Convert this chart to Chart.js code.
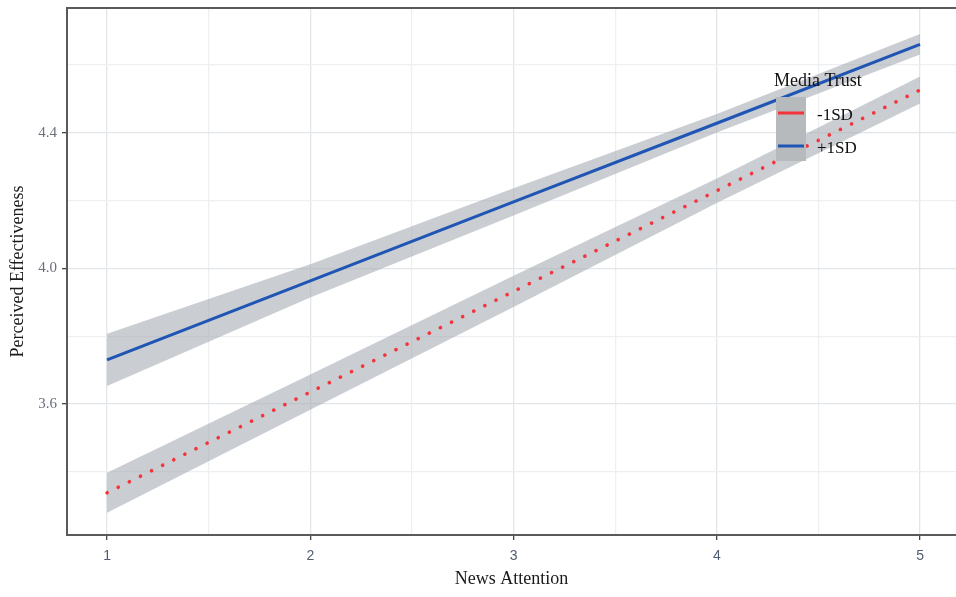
<!DOCTYPE html>
<html>
<head>
<meta charset="utf-8">
<script src="https://cdn.jsdelivr.net/npm/chart.js@4"></script>
<style>
  html, body { margin: 0; padding: 0; background: #ffffff; }
  #wrap { width: 956px; height: 597px; position: relative; }
</style>
</head>
<body>
<div id="wrap"><canvas id="myChart"></canvas></div>
<script>
// values
const newsAttention = [1, 2, 3, 4, 5];
const lowTrust = [3.338, 3.635, 3.932, 4.229, 4.526];      // -1SD
const lowTrustLower = [3.279, 3.583, 3.886, 4.193, 4.486];
const lowTrustUpper = [3.397, 3.687, 3.978, 4.265, 4.566];
const highTrust = [3.730, 3.963, 4.196, 4.428, 4.661];     // +1SD
const highTrustLower = [3.653, 3.914, 4.156, 4.401, 4.631];
const highTrustUpper = [3.807, 4.012, 4.236, 4.455, 4.691];
const seriesLabels = ["-1SD", "+1SD"];
const yTickLabels = [3.6, 4.0, 4.4];
const xTickLabels = [1, 2, 3, 4, 5];

const RED = "#f5333b";
const BLUE = "#1f55b5";
const BAND = "rgba(170,175,180,0.62)";
const SERIF = "'Liberation Serif', 'DejaVu Serif', serif";

const pts = (ys) => newsAttention.map((x, i) => ({ x: x, y: ys[i] }));

// top frame line + legend drawn inside the panel
const panelExtras = {
  id: "panelExtras",
  afterDatasetsDraw(chart) {
    const { ctx, chartArea } = chart;
    ctx.save();
    ctx.strokeStyle = "#5a5a5a";
    ctx.lineWidth = 2;
    ctx.beginPath();
    ctx.moveTo(chartArea.left, chartArea.top);
    ctx.lineTo(chartArea.right, chartArea.top);
    ctx.stroke();

    // legend
    ctx.fillStyle = "#111111";
    ctx.font = "18px " + SERIF;
    ctx.textBaseline = "alphabetic";
    ctx.textAlign = "left";
    ctx.fillText("Media Trust", 774, 86);
    ctx.fillStyle = "#b7babd";
    ctx.fillRect(776, 97, 30, 64);
    const keys = [
      { label: seriesLabels[0], color: RED, y: 113 },
      { label: seriesLabels[1], color: BLUE, y: 146 },
    ];
    ctx.font = "17px " + SERIF;
    ctx.textBaseline = "middle";
    keys.forEach((k) => {
      ctx.strokeStyle = k.color;
      ctx.lineWidth = 3;
      ctx.beginPath();
      ctx.moveTo(778, k.y);
      ctx.lineTo(804, k.y);
      ctx.stroke();
      ctx.fillStyle = "#111111";
      ctx.fillText(k.label, 817, k.y + 3);
    });
    ctx.restore();
  },
};

const ctx = document.getElementById("myChart").getContext("2d");
new Chart(ctx, {
  type: "line",
  data: {
    datasets: [
      { label: "lowLower", data: pts(lowTrustLower), borderWidth: 0, pointRadius: 0, fill: false, order: 5 },
      { label: "lowUpper", data: pts(lowTrustUpper), borderWidth: 0, pointRadius: 0, fill: "-1", backgroundColor: BAND, order: 4 },
      { label: "highLower", data: pts(highTrustLower), borderWidth: 0, pointRadius: 0, fill: false, order: 3 },
      { label: "highUpper", data: pts(highTrustUpper), borderWidth: 0, pointRadius: 0, fill: "-1", backgroundColor: BAND, order: 2 },
      {
        label: seriesLabels[0],
        data: pts(lowTrust),
        borderColor: RED,
        borderWidth: 3.6,
        borderDash: [0.1, 12.3],
        borderCapStyle: "round",
        pointRadius: 0,
        fill: false,
        order: 1,
      },
      {
        label: seriesLabels[1],
        data: pts(highTrust),
        borderColor: BLUE,
        borderWidth: 3,
        pointRadius: 0,
        fill: false,
        order: 0,
      },
    ],
  },
  options: {
    responsive: true,
    maintainAspectRatio: false,
    animation: false,
    layout: { padding: { top: 8, left: 0, right: 0, bottom: 0 } },
    plugins: { legend: { display: false }, tooltip: { enabled: false } },
    scales: {
      x: {
        type: "linear",
        min: 0.803,
        max: 5.177,
        border: { display: true, color: "#5a5a5a", width: 2 },
        grid: {
          color: (c) => (c.tick && Number.isInteger(c.tick.value) ? "#e3e6e9" : "#edf0f2"),
          lineWidth: 1.3,
          tickLength: 5,
          tickColor: (c) => (c.tick && xTickLabels.includes(c.tick.value) ? "#444444" : "rgba(0,0,0,0)"),
        },
        ticks: {
          stepSize: 0.5,
          includeBounds: false,
          autoSkip: false,
          maxRotation: 0,
          padding: 8,
          color: "#4f5d70",
          font: { family: "'Liberation Sans', Arial, sans-serif", size: 14 },
          callback: (v) => (xTickLabels.includes(v) ? String(v) : ""),
        },
        title: {
          display: true,
          text: "News Attention",
          color: "#1a1a1a",
          font: { family: SERIF, size: 18 },
          padding: { top: 0, bottom: 7 },
        },
        afterFit: (scale) => {
          scale.height = 62;
          scale.paddingLeft = 0;
          scale.paddingRight = 0;
        },
      },
      y: {
        type: "linear",
        min: 3.2135,
        max: 4.768,
        border: { display: true, color: "#5a5a5a", width: 2 },
        grid: {
          color: (c) => (c.tick && Math.round(c.tick.value * 10) % 4 === 0 ? "#e3e6e9" : "#edf0f2"),
          lineWidth: 1.3,
          tickLength: 5,
          tickColor: (c) => (c.tick && Math.round(c.tick.value * 10) % 4 === 0 ? "#444444" : "rgba(0,0,0,0)"),
        },
        ticks: {
          stepSize: 0.2,
          includeBounds: false,
          autoSkip: false,
          padding: 5,
          color: "#6a6f78",
          font: { family: SERIF, size: 15 },
          callback: (v) => {
            const m = yTickLabels.find((t) => Math.abs(t - v) < 1e-6);
            return m !== undefined ? m.toFixed(1) : "";
          },
        },
        title: {
          display: true,
          text: "Perceived Effectiveness",
          color: "#1a1a1a",
          font: { family: SERIF, size: 18 },
          padding: { top: 7, bottom: 0 },
        },
        afterFit: (scale) => {
          scale.width = 67;
          scale.paddingTop = 0;
          scale.paddingBottom = 0;
        },
      },
    },
  },
  plugins: [panelExtras],
});
</script>
</body>
</html>
